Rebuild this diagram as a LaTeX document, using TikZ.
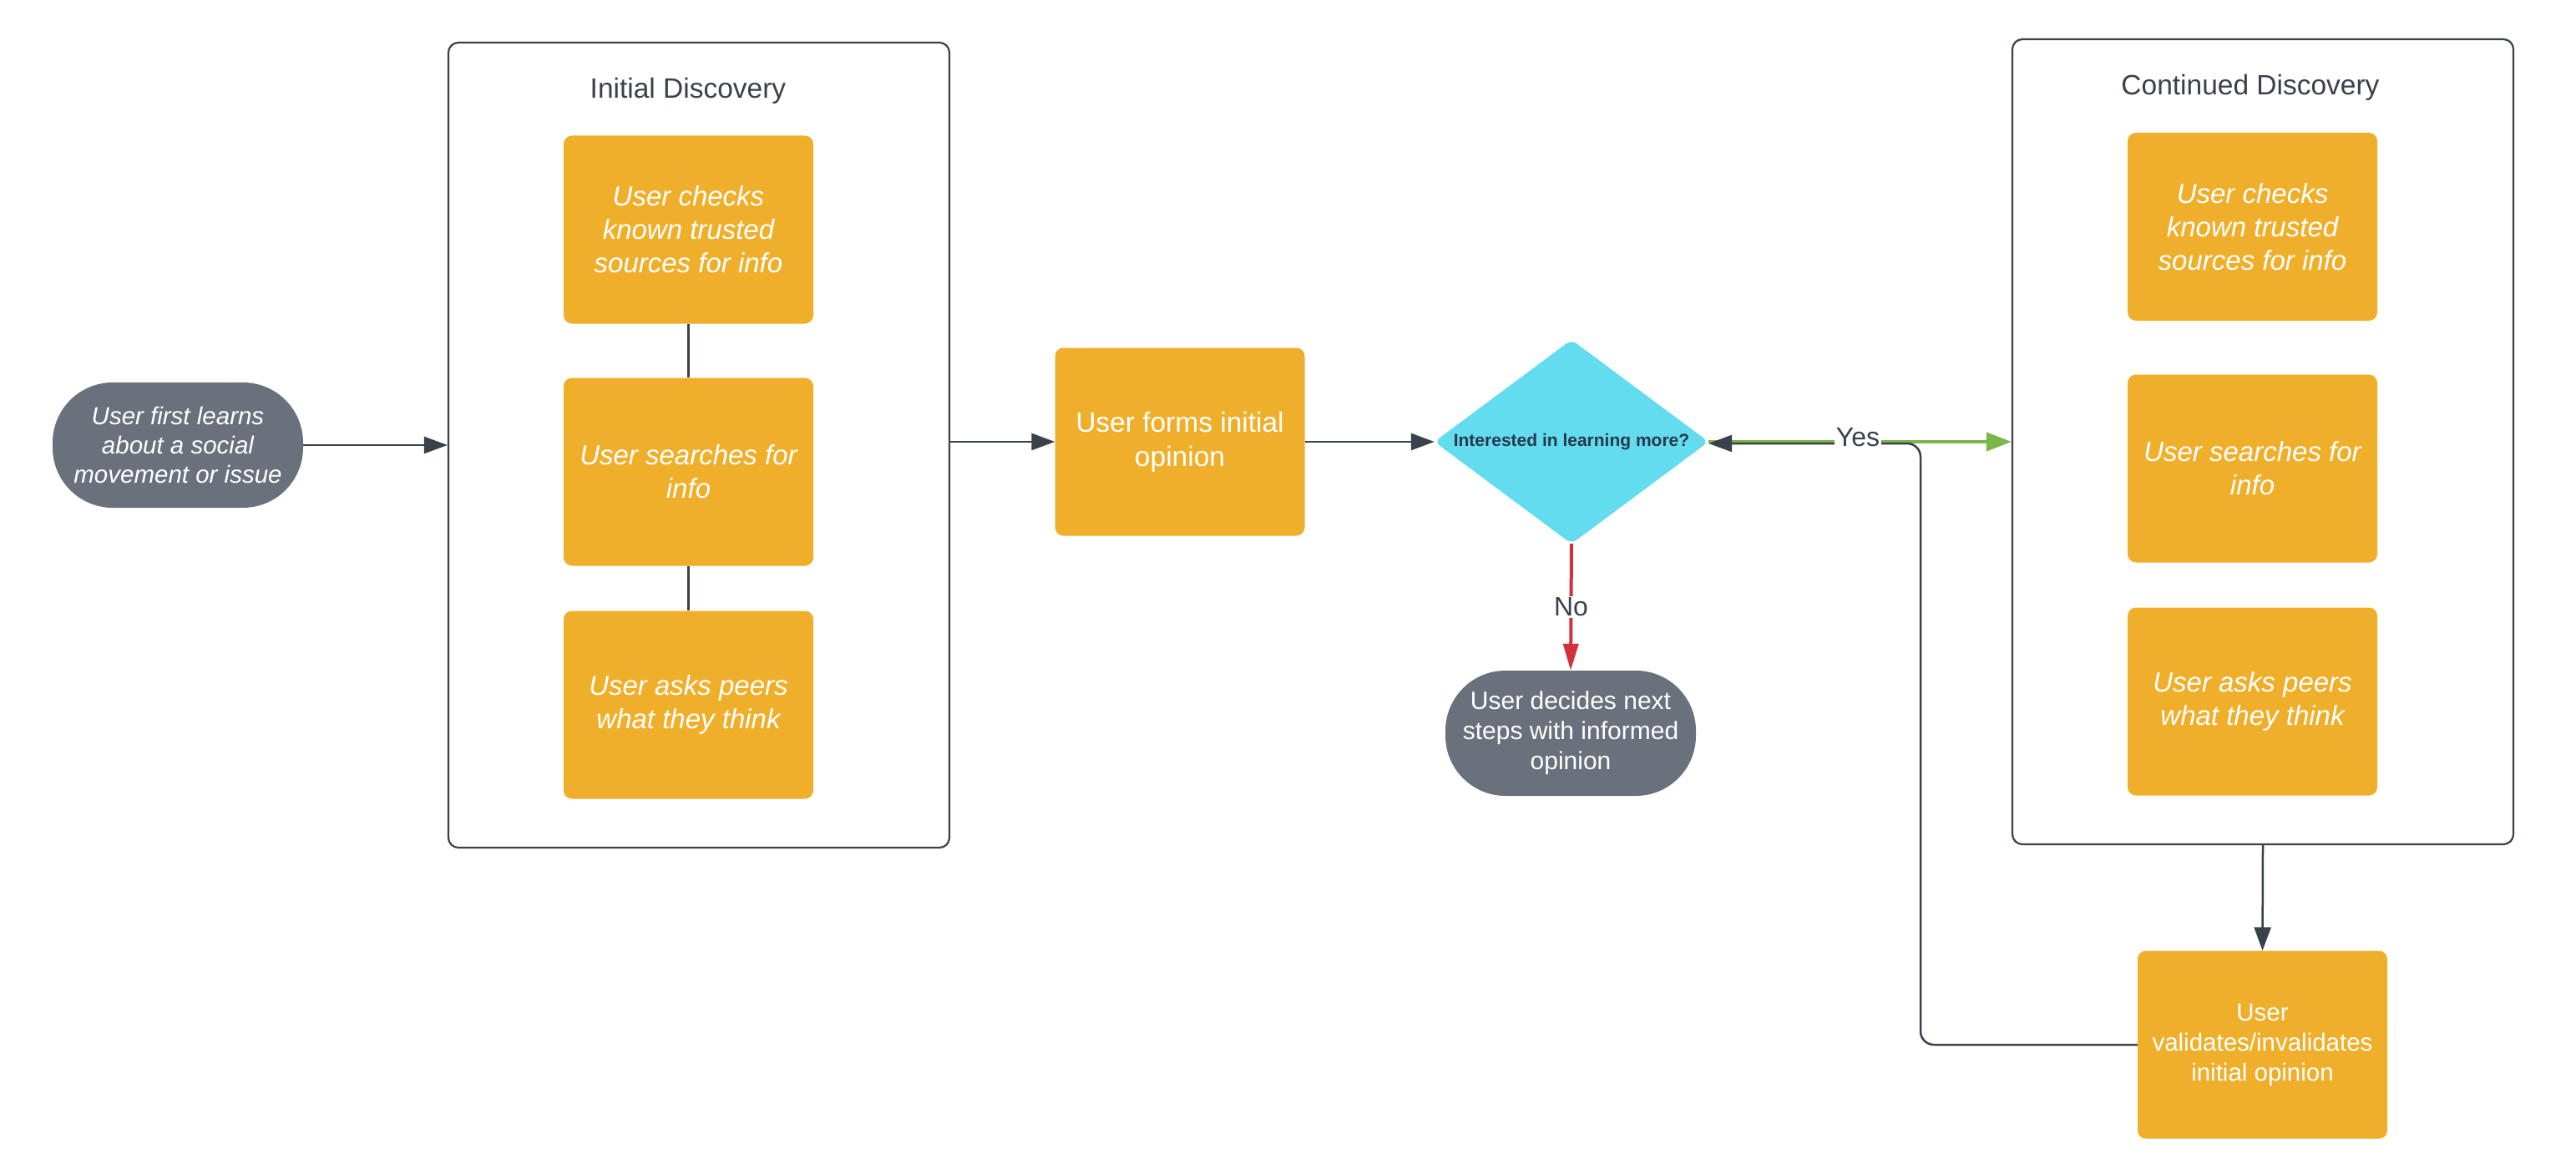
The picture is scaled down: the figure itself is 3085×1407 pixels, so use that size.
\documentclass[tikz,border=0pt]{standalone}
\usepackage{fontspec}
\setmainfont{Liberation Sans}
\usetikzlibrary{arrows.meta,shapes.geometric}
\definecolor{orng}{HTML}{EFAF2B}
\definecolor{pillg}{HTML}{6B717C}
\definecolor{cyanf}{HTML}{62DCEE}
\definecolor{linec}{HTML}{3A414A}
\definecolor{greenl}{HTML}{7AB648}
\definecolor{redl}{HTML}{D3303E}
\definecolor{diatext}{HTML}{27394A}
\begin{document}
\begin{tikzpicture}[x=1pt,y=-1pt,
  groupbox/.style={draw=linec, line width=2.2pt, rounded corners=12pt, minimum width=600pt, minimum height=964pt, inner sep=0pt},
  titletext/.style={text=linec, font=\fontsize{33.5}{40}\selectfont},
  obox/.style={rectangle, rounded corners=10pt, fill=orng, minimum width=299pt, minimum height=225pt, text=white, align=center, inner sep=0pt, font=\fontsize{33}{40}\selectfont\itshape},
  oboxup/.style={rectangle, rounded corners=10pt, fill=orng, minimum width=299pt, minimum height=225pt, text=white, align=center, inner sep=0pt, font=\fontsize{33.5}{41}\selectfont},
  pill/.style={rectangle, rounded corners=72pt, fill=pillg, minimum width=300pt, minimum height=150pt, text=white, align=center, inner sep=0pt},
  conn/.style={draw=linec, line width=2.2pt},
  arr/.style={draw=linec, line width=2.5pt, -{Triangle[length=28pt,width=20pt]}},
  garr/.style={draw=greenl, line width=4pt, -{Triangle[length=30pt,width=22pt]}},
  rarr/.style={draw=redl, line width=4pt, -{Triangle[length=32pt,width=18pt]}},
  lbl/.style={fill=white, inner sep=2pt, text=linec, font=\fontsize{32}{38}\selectfont}
]
\fill[white] (0,0) rectangle (3085,1407);
\useasboundingbox (0,0) rectangle (3085,1407);

% Initial discovery group
\node[groupbox] (ini) at (837,533) {};
\node[titletext] (initl) at (824,109) {Initial Discovery};
\node[obox] (i1) at (824.5,275) {User checks\\known trusted\\sources for info};
\node[obox] (i2) at (824.5,565) {User searches for\\info};
\node[obox] (i3) at (824.5,844) {User asks peers\\what they think};

% Start
\node[pill, font=\fontsize{29.5}{35}\selectfont\itshape] (start) at (213,533) {User first learns\\about a social\\movement or issue};

% Forms
\node[oboxup] (forms) at (1413,529) {User forms initial\\opinion};

% Decision
\node[rectangle, minimum width=328pt, minimum height=244pt, inner sep=0pt] (dia) at (1882,529) {};
\fill[cyanf, rounded corners=8pt] (dia.north) -- (dia.east) -- (dia.south) -- (dia.west) -- cycle;
\node[text=diatext, font=\fontsize{21}{25}\selectfont\bfseries] (diatxt) at (dia.center) {Interested in learning more?};

% End
\node[pill, font=\fontsize{30}{36}\selectfont] (decide) at (1881,878) {User decides next\\steps with informed\\opinion};

% Continued discovery group
\node[groupbox] (cont) at (2710,529) {};
\node[titletext] (contl) at (2695,105) {Continued Discovery};
\node[obox] (c1) at (2697.5,271.5) {User checks\\known trusted\\sources for info};
\node[obox] (c2) at (2697.5,561) {User searches for\\info};
\node[obox] (c3) at (2697.5,840) {User asks peers\\what they think};

% Validate
\node[oboxup, font=\fontsize{29.5}{36}\selectfont] (val) at (2709.5,1251) {User\\validates/invalidates\\initial opinion};

\coordinate (turn) at (2300,531);

% connectors
\draw[conn] (i1.south) -- (i2.north);
\draw[conn] (i2.south) -- (i3.north);
\draw[arr] (start.east) -- (start.east -| ini.west);
\draw[arr] (forms.west -| ini.east) -- (forms.west);
\draw[arr] (forms.east) -- (dia.west);
\draw[rarr] (dia.south) -- (decide.north) node[lbl, midway] (no) {No};
\draw[garr] (dia.east) -- (dia.east -| cont.west);
\draw[arr, rounded corners=16pt] (val.west) -| (turn) -- (dia.east |- turn);
\draw[arr] (cont.south) -- (val.north);
\node[lbl] (yes) at (2225,524) {Yes};
\end{tikzpicture}
\end{document}
